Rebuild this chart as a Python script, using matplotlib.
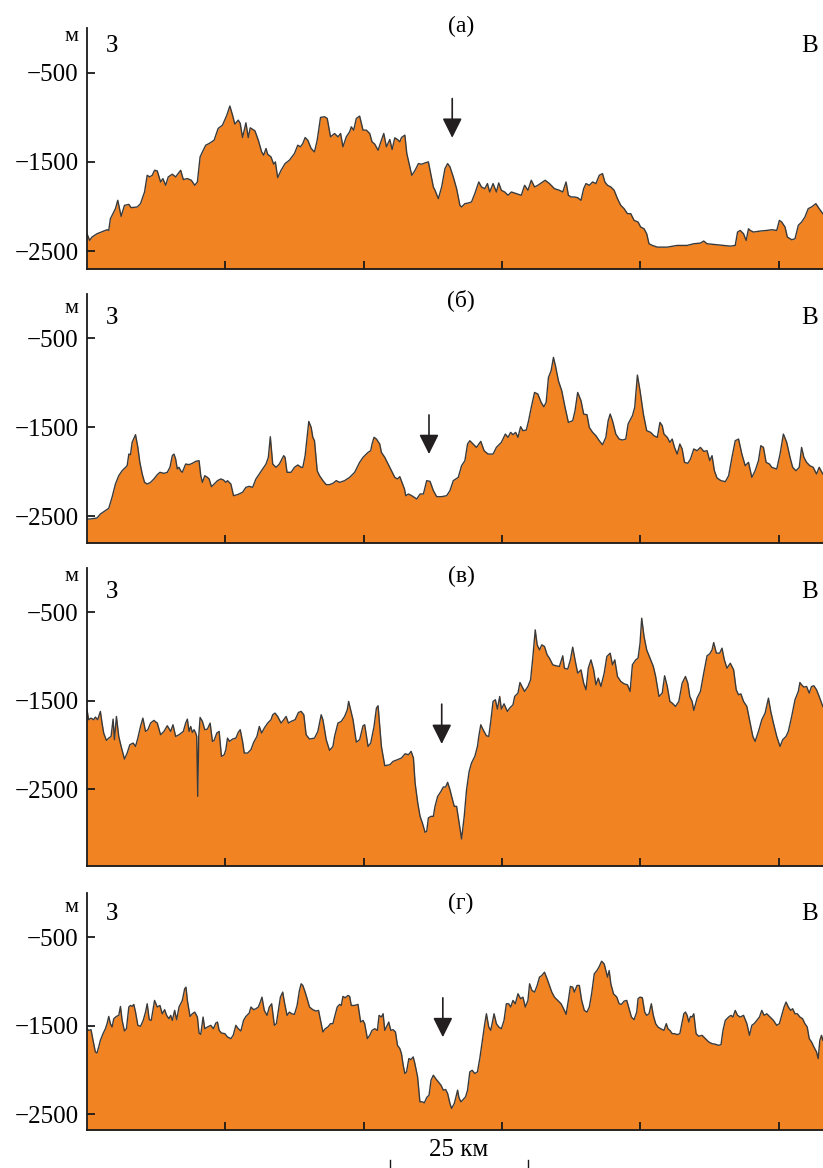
import matplotlib
matplotlib.use('Agg')
import matplotlib.pyplot as plt
from matplotlib.transforms import blended_transform_factory

plt.rcParams['font.family'] = ['Liberation Serif', 'DejaVu Serif']
plt.rcParams['axes.unicode_minus'] = True

FILL = '#f28322'
EDGE = '#3a3a3a'

# profile (а): distance, km / depth, m
a_km = [0, 0.48, 0.91, 1.81, 3.63, 3.93, 4.23, 5.14, 5.56, 6.17, 6.77, 7.56, 7.98, 9.07, 9.67,
        10.40, 10.88, 11.31, 11.79, 12.21, 12.70, 13.30, 13.72, 14.21, 14.69, 15.42, 16.02, 16.93,
        17.41, 18.14, 18.86, 19.47, 19.95, 20.44, 20.86, 21.46, 22.07, 22.97, 23.70, 24.49, 25.27,
        25.82, 26.30, 26.72, 27.33, 27.69, 28.11, 28.72, 29.14, 29.50, 30.35, 30.96, 31.56, 31.92,
        32.35, 32.65, 33.25, 33.74, 34.04, 34.46, 35.07, 35.79, 36.58, 37.49, 38.09, 38.57, 39.00,
        39.42, 39.90, 40.51, 41.11, 41.60, 42.20, 42.93, 43.41, 44.01, 44.74, 45.35, 45.83, 46.25,
        46.86, 47.46, 47.76, 48.19, 48.67, 49.27, 49.88, 50.48, 51.09, 51.51, 52.00, 52.60, 53.20,
        53.63, 54.11, 54.72, 55.14, 55.62, 56.11, 56.53, 56.83, 57.44, 57.79, 58.69, 59.29, 59.89,
        60.49, 61.09, 61.69, 61.99, 62.59, 62.89, 63.49, 64.09, 64.69, 65.17, 65.59, 66.19, 66.79,
        67.39, 67.69, 68.29, 68.89, 69.48, 70.08, 70.80, 71.28, 71.88, 72.36, 72.78, 73.38, 73.98,
        74.40, 74.88, 75.48, 76.08, 76.68, 77.58, 78.48, 79.08, 79.68, 80.28, 80.88, 81.47, 82.07,
        82.79, 83.57, 84.47, 85.37, 85.97, 86.57, 86.99, 87.47, 88.07, 88.67, 89.27, 89.75, 90.17,
        90.77, 91.37, 91.97, 92.57, 93.16, 93.58, 94.06, 94.66, 95.26, 95.86, 96.46, 97.06, 97.66,
        98.26, 98.86, 99.58, 100.06, 100.66, 101.14, 101.56, 102.16, 103.06, 104.86, 106.65,
        108.45, 109.65, 110.85, 111.45, 112.05, 113.25, 115.05, 116.25, 117.14, 117.56, 118.04,
        118.64, 119.12, 119.54, 119.84, 120.44, 121.64, 122.84, 123.74, 124.64, 125.12, 125.54,
        126.14, 126.56, 127.34, 127.94, 128.54, 129.13, 129.73, 130.33, 130.93, 131.71, 132.31,
        132.97]
a_m = [-2305, -2380, -2342, -2305, -2260, -2268, -2137, -2024, -1930, -2110, -1987, -1976, -2013,
       -2005, -1968, -1837, -1650, -1668, -1650, -1594, -1601, -1725, -1687, -1762, -1668, -1638,
       -1668, -1594, -1698, -1687, -1706, -1762, -1725, -1444, -1388, -1313, -1294, -1257, -1125,
       -1088, -976, -874, -976, -1077, -1032, -1069, -1227, -1062, -1227, -1118, -1152, -1257,
       -1388, -1425, -1350, -1414, -1444, -1526, -1500, -1676, -1594, -1519, -1481, -1406, -1313,
       -1331, -1294, -1227, -1257, -1350, -1388, -1257, -1002, -994, -1013, -1219, -1182, -1219,
       -1182, -1331, -1219, -1163, -1107, -1144, -1013, -987, -1144, -1144, -1182, -1275, -1301,
       -1369, -1257, -1182, -1331, -1249, -1361, -1230, -1249, -1275, -1227, -1200, -1406, -1650,
       -1594, -1519, -1526, -1511, -1500, -1594, -1781, -1818, -1912, -1781, -1575, -1519, -1556,
       -1668, -1800, -1987, -2005, -1968, -1961, -1949, -1856, -1725, -1781, -1800, -1743, -1837,
       -1743, -1837, -1736, -1818, -1837, -1874, -1837, -1856, -1874, -1762, -1818, -1706, -1781,
       -1762, -1736, -1706, -1743, -1800, -1818, -1837, -1725, -1874, -1893, -1893, -1901, -1931,
       -1800, -1743, -1762, -1725, -1743, -1650, -1631, -1725, -1762, -1781, -1818, -1912, -1987,
       -2024, -2080, -2080, -2155, -2174, -2230, -2249, -2305, -2417, -2436, -2455, -2455, -2436,
       -2436, -2417, -2410, -2387, -2417, -2425, -2436, -2444, -2436, -2286, -2268, -2305, -2380,
       -2249, -2268, -2286, -2275, -2268, -2260, -2268, -2155, -2174, -2230, -2342, -2372, -2361,
       -2211, -2174, -2118, -2024, -2005, -1968, -2024, -2080]

# profile (б)
b_km = [0, 0.60, 1.81, 2.42, 3.33, 3.93, 4.53, 5.14, 5.74, 6.35, 6.95, 7.26, 7.56, 7.86, 8.16,
        8.77, 9.19, 9.55, 9.98, 10.40, 10.88, 11.49, 12.09, 12.70, 13.18, 13.91, 14.51, 14.99,
        15.42, 15.72, 16.02, 16.32, 16.63, 16.93, 17.23, 17.83, 18.44, 19.04, 19.65, 20.25, 20.56,
        20.86, 21.28, 21.76, 22.07, 22.49, 22.97, 23.58, 24.18, 24.67, 25.09, 25.39, 26.00, 26.48,
        27.21, 28.11, 28.72, 29.32, 29.93, 30.53, 31.14, 31.74, 32.35, 32.77, 33.13, 33.56, 34.16,
        34.76, 35.55, 35.79, 36.15, 36.88, 37.49, 38.09, 38.70, 39.00, 39.42, 39.78, 40.08, 40.51,
        40.81, 41.11, 41.60, 42.02, 42.63, 43.23, 43.83, 44.44, 45.04, 45.65, 46.55, 47.46, 48.37,
        49.27, 49.88, 50.79, 51.27, 51.51, 51.87, 52.30, 52.90, 53.20, 53.81, 54.41, 55.02, 55.62,
        56.11, 56.53, 57.37, 57.61, 58.09, 58.69, 59.59, 60.19, 60.79, 61.39, 61.99, 62.59, 63.19,
        64.09, 64.99, 65.59, 66.19, 67.09, 67.69, 68.29, 68.77, 69.18, 69.78, 70.38, 71.16, 71.76,
        72.48, 73.38, 73.98, 74.28, 74.88, 75.60, 76.08, 76.56, 76.98, 77.46, 77.88, 78.36, 78.78,
        79.38, 79.80, 80.28, 80.88, 81.47, 82.07, 82.55, 82.97, 83.39, 83.87, 84.29, 84.65, 85.19,
        85.79, 86.39, 86.99, 87.77, 88.19, 88.67, 89.27, 89.75, 90.35, 90.77, 91.37, 91.97, 92.57,
        93.16, 93.76, 94.18, 94.54, 94.96, 95.56, 96.16, 96.76, 97.36, 97.78, 98.56, 98.98, 99.46,
        99.94, 100.54, 101.14, 101.86, 102.46, 103.06, 103.54, 103.95, 104.26, 104.86, 105.33,
        105.75, 106.17, 106.65, 107.13, 107.55, 107.97, 108.57, 109.05, 109.65, 110.25, 110.85,
        111.45, 112.05, 112.53, 112.95, 113.37, 113.85, 114.57, 115.35, 115.95, 116.55, 117.14,
        117.74, 118.34, 118.94, 119.54, 120.14, 120.74, 121.34, 121.76, 122.24, 122.72, 123.32,
        123.74, 124.64, 125.24, 125.84, 126.44, 127.04, 127.52, 128.12, 128.71, 129.13, 129.55,
        130.03, 130.63, 131.23, 131.83, 132.31, 132.97]
b_m = [-2530, -2530, -2519, -2474, -2436, -2410, -2286, -2137, -2043, -1987, -1949, -1931, -1800,
       -1807, -1668, -1582, -1725, -1893, -2024, -2118, -2137, -2118, -2080, -2032, -2005, -2017,
       -2005, -1949, -1818, -1800, -1856, -1968, -1949, -1987, -2005, -1912, -1919, -1904, -1882,
       -1874, -2043, -2118, -2043, -2062, -2080, -2167, -2137, -2099, -2080, -2092, -2118, -2099,
       -2137, -2268, -2256, -2230, -2174, -2163, -2174, -2080, -2024, -1968, -1912, -1837, -1605,
       -1912, -1949, -1912, -1818, -1837, -2005, -2005, -1949, -1923, -1949, -1949, -1818, -1612,
       -1433, -1500, -1612, -1650, -1987, -2043, -2099, -2144, -2144, -2129, -2099, -2118, -2099,
       -2062, -2005, -1893, -1837, -1781, -1762, -1687, -1612, -1631, -1687, -1781, -1837, -1912,
       -1987, -2062, -2080, -2054, -2193, -2268, -2249, -2268, -2305, -2249, -2249, -2099, -2107,
       -2211, -2279, -2279, -2268, -2211, -2099, -2062, -1931, -1874, -1687, -1650, -1687, -1725,
       -1657, -1762, -1800, -1800, -1725, -1706, -1668, -1575, -1612, -1556, -1582, -1556, -1612,
       -1492, -1537, -1530, -1425, -1275, -1107, -1125, -1219, -1268, -1219, -938, -863, -713,
       -807, -976, -1088, -1275, -1444, -1425, -1313, -1107, -1200, -1350, -1358, -1500, -1556,
       -1594, -1650, -1695, -1612, -1425, -1350, -1425, -1575, -1631, -1642, -1631, -1462, -1369,
       -1275, -912, -1088, -1350, -1537, -1556, -1594, -1612, -1444, -1481, -1575, -1612, -1668,
       -1631, -1725, -1800, -1687, -1743, -1893, -1904, -1856, -1743, -1762, -1725, -1770, -1762,
       -1874, -1818, -1987, -2069, -2099, -2110, -2043, -1837, -1650, -1631, -1800, -1931, -1893,
       -2062, -1987, -1874, -1706, -1725, -1893, -1912, -1949, -1968, -1800, -1575, -1668, -1837,
       -1949, -1987, -1949, -1725, -1837, -1893, -1931, -1949, -2024, -1949, -2024]

# profile (в)
c_km = [0, 0.30, 0.73, 1.21, 1.51, 1.93, 2.42, 2.72, 3.02, 3.51, 3.93, 4.35, 4.72, 4.96, 5.32,
        5.74, 6.17, 6.77, 7.26, 7.74, 8.34, 8.77, 9.19, 9.67, 10.10, 10.58, 11.00, 11.49, 12.09,
        12.70, 13.30, 13.91, 14.51, 15.12, 15.54, 16.02, 16.63, 17.41, 17.83, 18.14, 18.44, 18.74,
        19.04, 19.35, 19.65, 19.83, 20.01, 20.19, 20.44, 20.86, 21.28, 21.76, 22.25, 22.67, 22.97,
        23.46, 23.88, 24.30, 24.79, 25.09, 25.39, 25.76, 26.30, 26.90, 27.33, 27.69, 28.11, 28.42,
        29.02, 29.63, 30.11, 30.71, 31.14, 31.56, 32.04, 32.65, 33.25, 33.56, 33.98, 34.46, 35.07,
        35.55, 35.98, 36.40, 36.88, 37.61, 38.21, 38.70, 39.18, 39.60, 40.21, 41.11, 41.72, 42.32,
        42.63, 43.23, 43.83, 44.44, 44.74, 45.35, 45.95, 46.55, 47.04, 47.28, 47.64, 48.07, 48.67,
        49.27, 49.88, 50.18, 50.79, 51.27, 51.87, 52.30, 52.60, 53.20, 53.81, 54.72, 55.32, 56.11,
        56.83, 57.49, 58.09, 58.57, 58.99, 59.29, 59.77, 60.19, 60.61, 61.09, 61.39, 61.69, 62.17,
        62.59, 62.89, 63.37, 63.97, 64.39, 64.81, 65.17, 65.59, 65.89, 66.37, 66.79, 67.21, 67.69,
        68.17, 68.59, 69.06, 69.48, 70.08, 70.56, 70.80, 71.16, 71.58, 72.18, 72.60, 72.96, 73.38,
        73.80, 74.16, 74.58, 74.88, 75.36, 75.96, 76.38, 76.98, 77.28, 77.88, 78.24, 78.60, 79.08,
        79.68, 80.16, 80.58, 81.00, 81.35, 81.77, 82.19, 82.67, 83.15, 83.57, 84.17, 84.77, 85.37,
        85.97, 86.27, 86.87, 87.35, 87.77, 88.19, 88.67, 89.27, 89.75, 90.17, 90.59, 91.07, 91.55,
        91.97, 92.39, 92.87, 93.46, 93.94, 94.54, 94.96, 95.38, 95.86, 96.46, 97.06, 97.66, 98.14,
        98.56, 99.16, 99.58, 99.94, 100.24, 100.66, 101.14, 101.74, 102.34, 102.76, 103.36,
        103.95, 104.38, 104.86, 105.33, 105.75, 106.35, 106.95, 107.55, 108.15, 108.57, 108.93,
        109.35, 109.65, 110.25, 110.85, 111.45, 112.05, 112.53, 112.95, 113.25, 113.73, 114.33,
        114.75, 115.17, 115.65, 116.25, 116.85, 117.32, 117.74, 118.16, 118.64, 119.24, 119.84,
        120.32, 120.74, 121.34, 121.94, 122.54, 123.14, 123.56, 124.04, 124.64, 125.24, 125.72,
        126.32, 126.74, 127.34, 127.94, 128.54, 128.83, 129.13, 129.55, 130.03, 130.51, 130.93,
        131.35, 131.83, 132.31, 132.97]
c_m = [-1603, -1716, -1698, -1716, -1686, -1716, -1622, -1754, -1867, -1950, -1924, -1905, -1709,
       -1942, -1679, -1905, -2018, -2161, -2093, -1999, -1980, -2018, -1924, -1792, -1698, -1848,
       -1829, -1754, -1724, -1754, -1886, -1848, -1784, -1848, -1773, -1905, -1886, -1848, -1754,
       -1709, -1848, -1792, -1860, -1829, -1867, -1905, -2583, -1905, -1690, -1735, -1829, -1822,
       -1754, -1961, -1950, -1867, -1848, -2131, -2112, -2055, -1924, -1961, -1935, -1924, -1860,
       -1829, -1961, -2093, -2093, -2055, -1973, -1905, -1792, -1867, -1810, -1754, -1716, -1660,
       -1641, -1679, -1754, -1716, -1679, -1754, -1735, -1716, -1634, -1622, -1660, -1886, -1935,
       -1924, -1848, -1660, -1716, -1942, -2063, -2018, -1905, -1754, -1735, -1679, -1603, -1509,
       -1603, -1716, -1969, -1942, -1784, -1773, -2018, -1980, -1792, -1585, -1558, -2018, -2236,
       -2225, -2187, -2168, -2149, -2101, -2112, -2074, -2149, -2432, -2658, -2809, -2884, -2989,
       -2978, -2827, -2809, -2809, -2696, -2583, -2526, -2477, -2477, -2424, -2507, -2583, -2696,
       -2696, -2865, -3065, -2809, -2507, -2300, -2206, -2131, -2018, -1905, -1773, -1829, -1897,
       -1905, -1735, -1509, -1490, -1596, -1453, -1596, -1536, -1622, -1585, -1547, -1453, -1415,
       -1295, -1340, -1396, -1340, -1265, -1001, -700, -869, -926, -869, -888, -982, -1020, -1095,
       -1106, -1114, -993, -1133, -1144, -1039, -895, -1039, -1189, -1152, -1302, -1377, -1133,
       -1039, -1152, -1321, -1246, -1340, -1189, -1001, -963, -1095, -1039, -1227, -1283, -1310,
       -1321, -1396, -1095, -1039, -1020, -850, -568, -775, -926, -1020, -1114, -1227, -1453,
       -1415, -1219, -1340, -1509, -1528, -1566, -1509, -1302, -1227, -1302, -1453, -1509, -1611,
       -1472, -1396, -1189, -993, -971, -926, -843, -963, -963, -907, -1039, -1133, -1077, -1152,
       -1377, -1434, -1423, -1509, -1566, -1754, -1905, -1961, -1848, -1716, -1641, -1472, -1622,
       -1754, -1905, -2018, -1942, -1905, -1848, -1679, -1490, -1396, -1295, -1321, -1347, -1340,
       -1415, -1340, -1332, -1377, -1453, -1566]

# profile (г)
d_km = [0, 0.30, 0.73, 1.09, 1.51, 1.81, 2.12, 2.42, 2.90, 3.33, 3.63, 3.93, 4.23, 4.53, 4.84,
        5.32, 5.74, 6.05, 6.35, 6.77, 7.13, 7.56, 7.86, 8.16, 8.46, 8.77, 9.19, 9.67, 10.16, 10.58,
        10.88, 11.25, 11.61, 11.97, 12.21, 12.70, 13.18, 13.60, 14.03, 14.39, 14.81, 15.12, 15.42,
        15.84, 16.20, 16.63, 16.93, 17.23, 17.65, 17.89, 18.14, 18.62, 19.04, 19.47, 19.95, 20.25,
        20.56, 20.98, 21.28, 21.76, 22.37, 22.85, 23.28, 23.58, 23.88, 24.30, 24.91, 25.39, 26.00,
        26.42, 26.90, 27.33, 27.81, 28.29, 28.72, 29.32, 29.63, 30.11, 30.53, 30.96, 31.32, 31.62,
        32.04, 32.53, 32.95, 33.37, 33.86, 34.22, 34.58, 34.95, 35.37, 35.67, 36.15, 36.58, 37.00,
        37.49, 37.97, 38.39, 38.70, 39.00, 39.42, 39.78, 40.21, 40.81, 41.41, 41.84, 42.20, 42.63,
        43.05, 43.53, 44.01, 44.44, 44.74, 45.22, 45.65, 45.95, 46.25, 46.67, 47.16, 47.46, 47.76,
        48.37, 48.97, 49.45, 49.88, 50.18, 50.67, 51.09, 51.51, 52.00, 52.48, 52.78, 53.20, 53.51,
        53.81, 54.11, 54.53, 54.90, 55.32, 55.74, 56.11, 56.53, 56.83, 57.14, 57.44, 57.74, 58.16,
        58.53, 58.95, 59.25, 59.74, 60.16, 60.61, 60.97, 61.39, 61.81, 62.17, 62.59, 63.01, 63.49,
        63.97, 64.39, 64.81, 65.17, 65.59, 65.89, 66.37, 66.61, 66.97, 67.21, 67.57, 67.99, 68.41,
        68.77, 69.18, 69.60, 70.08, 70.56, 70.98, 71.40, 71.88, 72.18, 72.60, 72.96, 73.20, 73.56,
        73.98, 74.40, 74.88, 75.36, 75.78, 76.20, 76.56, 76.98, 77.40, 77.88, 78.36, 78.78, 79.20,
        79.68, 79.98, 80.40, 80.88, 81.35, 81.77, 82.19, 82.67, 83.15, 83.57, 83.99, 84.47, 85.07,
        85.67, 86.27, 86.57, 86.99, 87.35, 87.77, 88.07, 88.55, 88.97, 89.39, 89.87, 90.35, 90.77,
        91.19, 91.67, 92.15, 92.57, 92.99, 93.46, 93.76, 94.06, 94.36, 94.66, 95.14, 95.74, 96.16,
        96.58, 97.06, 97.54, 97.96, 98.38, 98.86, 99.34, 99.58, 99.94, 100.36, 100.78, 101.14,
        101.56, 101.98, 102.34, 102.76, 103.18, 103.66, 104.26, 104.68, 104.98, 105.33, 105.75,
        106.17, 106.65, 107.13, 107.55, 107.85, 108.15, 108.45, 108.75, 109.05, 109.35, 109.65,
        110.07, 110.55, 111.15, 111.75, 112.35, 112.95, 113.55, 114.15, 114.57, 114.93, 115.35,
        115.95, 116.37, 116.73, 117.14, 117.56, 118.04, 118.64, 119.24, 119.72, 120.14, 120.56,
        121.04, 121.52, 121.94, 122.36, 122.84, 123.44, 124.04, 124.64, 125.12, 125.54, 125.96,
        126.32, 126.74, 127.16, 127.52, 127.94, 128.36, 128.83, 129.31, 129.73, 130.15, 130.51,
        130.93, 131.35, 131.83, 132.13, 132.43, 132.73, 132.97]
d_m = [-1534, -1553, -1545, -1665, -1797, -1808, -1740, -1665, -1590, -1534, -1477, -1395, -1477,
       -1515, -1421, -1395, -1383, -1282, -1440, -1560, -1534, -1289, -1271, -1282, -1259, -1346,
       -1496, -1507, -1440, -1346, -1252, -1432, -1440, -1308, -1214, -1289, -1271, -1365, -1319,
       -1383, -1421, -1383, -1440, -1327, -1432, -1289, -1252, -1214, -1083, -1064, -1214, -1395,
       -1365, -1346, -1402, -1583, -1598, -1402, -1534, -1515, -1496, -1534, -1470, -1459, -1553,
       -1583, -1590, -1628, -1646, -1609, -1496, -1534, -1560, -1440, -1395, -1357, -1289, -1319,
       -1308, -1289, -1233, -1177, -1327, -1383, -1289, -1252, -1496, -1477, -1327, -1177, -1120,
       -1233, -1383, -1346, -1365, -1372, -1271, -1101, -1026, -1045, -1120, -1195, -1289, -1319,
       -1335, -1327, -1440, -1571, -1534, -1515, -1477, -1477, -1402, -1289, -1259, -1271, -1169,
       -1184, -1158, -1169, -1271, -1271, -1259, -1459, -1440, -1477, -1646, -1609, -1553, -1534,
       -1553, -1383, -1402, -1365, -1553, -1515, -1459, -1553, -1545, -1571, -1722, -1759, -1816,
       -1947, -2041, -2022, -1872, -1883, -1853, -1928, -2079, -2361, -2361, -2372, -2312, -2286,
       -2116, -2060, -2098, -2135, -2173, -2229, -2222, -2267, -2380, -2436, -2380, -2323, -2229,
       -2312, -2361, -2334, -2304, -2229, -2022, -2004, -2041, -2022, -1872, -1684, -1477, -1365,
       -1515, -1553, -1477, -1365, -1477, -1515, -1534, -1440, -1252, -1252, -1289, -1214, -1252,
       -1139, -1195, -1177, -1289, -1214, -1026, -1101, -1120, -1045, -951, -932, -895, -970,
       -1045, -1120, -1177, -1214, -1252, -1327, -1372, -1214, -1056, -1064, -1120, -1045, -1045,
       -1214, -1327, -1346, -1289, -1139, -913, -876, -831, -771, -801, -876, -951, -876, -1026,
       -1139, -1177, -1252, -1259, -1222, -1214, -1308, -1402, -1432, -1346, -1195, -1177, -1184,
       -1346, -1383, -1365, -1252, -1383, -1477, -1515, -1534, -1553, -1477, -1534, -1553, -1590,
       -1590, -1601, -1590, -1459, -1365, -1346, -1383, -1459, -1395, -1402, -1365, -1590, -1620,
       -1609, -1646, -1684, -1703, -1710, -1722, -1714, -1553, -1440, -1402, -1383, -1402, -1327,
       -1383, -1402, -1383, -1477, -1609, -1496, -1477, -1440, -1402, -1327, -1383, -1365, -1402,
       -1440, -1496, -1477, -1383, -1289, -1233, -1289, -1327, -1308, -1365, -1365, -1402, -1421,
       -1477, -1515, -1646, -1684, -1740, -1797, -1872, -1665, -1609, -1665]

panel_labels = ['(а)', '(б)', '(в)', '(г)']
y_bottoms = [-2700, -2800, -3370, -2680]
y_ticks = [-500, -1500, -2500]
x_ticks = [25, 50, 75, 100, 125]
x_max = 133

# arrows marking the feature on each profile: km, start depth, tip depth
arrow_km = [66.0, 61.8, 64.1, 64.3]
arrow_from = [-790, -1360, -1540, -1185]
arrow_to = [-1230, -1800, -1990, -1630]

# text heights per panel (depth units)
unit_y = [-95, -166, -100, -165]
side_y = [-197, -270, -271, -240]
title_y = [17, -65, -100, -118]

profiles = [(a_km, a_m), (b_km, b_m), (c_km, c_m), (d_km, d_m)]

# axes rectangles in figure fractions (left, bottom, width, height)
rects = [(0.1057, 0.7697, 0.8943, 0.2063),
         (0.1057, 0.5351, 0.8943, 0.2132),
         (0.1057, 0.2586, 0.8943, 0.2551),
         (0.1057, 0.0325, 0.8943, 0.2029)]

fig = plt.figure(figsize=(8.23, 11.68), dpi=100)

for i, (km, m) in enumerate(profiles):
    ax = fig.add_axes(rects[i])
    ax.fill_between(km, m, y_bottoms[i], color=FILL, linewidth=0)
    ax.plot(km, m, color=EDGE, linewidth=1.0)
    ax.set_xlim(0, x_max)
    ax.set_ylim(y_bottoms[i], 0)

    for side in ['top', 'right']:
        ax.spines[side].set_visible(False)
    for side in ['left', 'bottom']:
        ax.spines[side].set_linewidth(1.3)
        ax.spines[side].set_color('#1a1a1a')

    ax.set_xticks(x_ticks)
    ax.set_xticklabels([])
    ax.set_yticks(y_ticks)
    ax.set_yticklabels([f'−{abs(v)}' for v in y_ticks])
    ax.tick_params(direction='in', length=6, width=1.3, color='#1a1a1a',
                   labelsize=18, pad=6)

    ax.text(-1.5, unit_y[i], 'м', fontsize=16, ha='right', va='center', clip_on=False)
    ax.text(4.5, side_y[i], 'З', fontsize=18, ha='center', va='center')
    ax.text(130.5, side_y[i], 'В', fontsize=18, ha='center', va='center')
    ax.text(67.6, title_y[i], panel_labels[i], fontsize=17, ha='center', va='center',
            clip_on=False)

    ax.annotate('', xy=(arrow_km[i], arrow_to[i]), xytext=(arrow_km[i], arrow_from[i]),
                arrowprops=dict(arrowstyle='-|>', color='#231f20', lw=1.2,
                                mutation_scale=30, shrinkA=0, shrinkB=0))

    if i == 3:
        # 25 km scale bar under the last profile
        trans = blended_transform_factory(ax.transData, fig.transFigure)
        bar_start, bar_len = 54.7, 25
        for xb in [bar_start, bar_start + bar_len]:
            ax.plot([xb, xb], [0.0, 0.0065], color='#1a1a1a', lw=1.0,
                    transform=trans, clip_on=False)
        ax.text(bar_start + bar_len / 2, 0.0155, '25 км', fontsize=18,
                ha='center', va='center', transform=trans)

fig.savefig('out.png', dpi=100)
